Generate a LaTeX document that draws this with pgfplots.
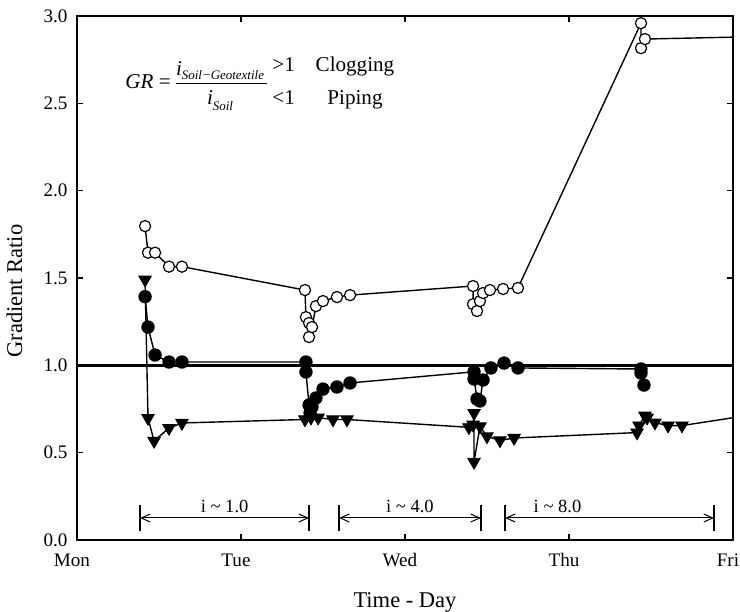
\documentclass[border=0pt]{standalone}
\usepackage{fontspec}
\setmainfont{Liberation Serif}
\usepackage{pgfplots}
\pgfplotsset{compat=1.18}
\usetikzlibrary{arrows.meta}
\newcommand{\fbig}{\fontsize{10.6}{12.5}\selectfont}
\begin{document}
\fontsize{9.3}{11.2}\selectfont
\begin{tikzpicture}
\begin{axis}[
  scale only axis, width=328bp, height=262bp,
  xmin=0, xmax=4, ymin=0, ymax=3,
  xtick={0,1,2,3,4}, xticklabels={Mon,Tue,Wed,Thu,Fri},
  ytick={0,0.5,1,1.5,2,2.5,3}, yticklabels={0.0,0.5,1.0,1.5,2.0,2.5,3.0},
  tick align=inside, major tick length=3bp,
  axis line style={line width=0.9bp},
  tick style={line width=0.7bp, black},
  tick label style={font=\fontsize{9.6}{11.5}\selectfont},
  xticklabel style={xshift=-2.5bp, yshift=-3.5bp},
  yticklabel style={xshift=-1.5bp},
  xlabel={Time - Day}, ylabel={Gradient Ratio},
  label style={font=\fontsize{11.3}{13}\selectfont},
  xlabel style={at={(axis description cs:0.5,-0.128)}, anchor=base},
  ylabel style={at={(axis description cs:-0.0838,0.475)}, anchor=base},
]
% triangles (down)
\addplot[black, line width=0.7bp, mark=triangle*, mark size=3.6bp, mark options={rotate=180, fill=black, line width=0.4bp}] coordinates {
(0.415,1.49) (0.433,0.698) (0.470,0.567) (0.561,0.641) (0.640,0.670)
(1.390,0.690) (1.427,0.700) (1.470,0.700) (1.561,0.690) (1.646,0.690)
(2.390,0.645) (2.415,0.660) (2.421,0.727) (2.421,0.447) (2.457,0.650) (2.500,0.593) (2.579,0.570) (2.665,0.584)
(3.415,0.615) (3.427,0.655) (3.463,0.712) (3.476,0.700) (3.524,0.672) (3.604,0.655) (3.689,0.655)
};
\addplot[black, line width=0.7bp, no markers] coordinates {(3.689,0.655) (4.0,0.70)};
% filled circles
\addplot[black, line width=0.7bp, mark=*, mark size=3bp, mark options={fill=black}] coordinates {
(0.415,1.393) (0.433,1.219) (0.476,1.059) (0.561,1.019) (0.640,1.019)
(1.396,1.019) (1.396,0.962) (1.415,0.773) (1.421,0.727) (1.433,0.761) (1.457,0.813) (1.500,0.864) (1.585,0.876) (1.665,0.899)
(2.421,0.963) (2.421,0.922) (2.439,0.807) (2.457,0.796) (2.476,0.916) (2.524,0.985) (2.604,1.013) (2.689,0.985)
(3.439,0.979) (3.439,0.956) (3.457,0.887)
};
% reference line GR = 1
\addplot[black, line width=1.6bp, no markers] coordinates {(0,1) (4,1)};
% open circles
\addplot[black, line width=0.7bp, mark=*, mark size=2.8bp, mark options={fill=white, line width=0.6bp}] coordinates {
(0.415,1.797) (0.433,1.645) (0.476,1.645) (0.561,1.565) (0.640,1.565)
(1.390,1.431) (1.396,1.276) (1.415,1.242) (1.415,1.162) (1.433,1.219) (1.457,1.339) (1.500,1.368) (1.585,1.391) (1.665,1.402)
(2.415,1.454) (2.415,1.350) (2.439,1.311) (2.457,1.368) (2.476,1.414) (2.518,1.431) (2.598,1.437) (2.689,1.443)
(3.439,2.959) (3.439,2.816) (3.463,2.868)
};
\addplot[black, line width=0.7bp, no markers] coordinates {(3.463,2.868) (4.0,2.879)};
% formula
\node[anchor=base west, inner sep=0pt] at (axis cs:0.293,2.587) {\fbig\textit{GR} =};
\node[anchor=base, inner sep=0pt] at (axis cs:0.872,2.662) {\fbig\textit{i}\raisebox{-2bp}{\fontsize{6.5}{7}\selectfont\textit{Soil−Geotextile}}};
\draw[line width=0.5bp] (axis cs:0.604,2.616) -- (axis cs:1.159,2.616);
\node[anchor=base, inner sep=0pt] at (axis cs:0.872,2.496) {\fbig\textit{i}\raisebox{-3bp}{\fontsize{6.5}{7}\selectfont\textit{Soil}}};
\node[anchor=base west, inner sep=0pt] at (axis cs:1.189,2.681) {\fbig >1};
\node[anchor=base, inner sep=0pt] at (axis cs:1.695,2.681) {\fbig Clogging};
\node[anchor=base west, inner sep=0pt] at (axis cs:1.189,2.496) {\fbig <1};
\node[anchor=base, inner sep=0pt] at (axis cs:1.695,2.496) {\fbig Piping};
% intervals
\draw[line width=0.7bp] (axis cs:0.384,0.052) -- (axis cs:0.384,0.200);
\draw[line width=0.7bp] (axis cs:1.415,0.052) -- (axis cs:1.415,0.200);
\draw[line width=0.5bp, {Straight Barb[length=4.5bp,width=4bp]}-{Straight Barb[length=4.5bp,width=4bp]}] (axis cs:0.384,0.126) -- (axis cs:1.415,0.126);
\draw[line width=0.7bp] (axis cs:1.598,0.052) -- (axis cs:1.598,0.200);
\draw[line width=0.7bp] (axis cs:2.463,0.052) -- (axis cs:2.463,0.200);
\draw[line width=0.5bp, {Straight Barb[length=4.5bp,width=4bp]}-{Straight Barb[length=4.5bp,width=4bp]}] (axis cs:1.598,0.126) -- (axis cs:2.463,0.126);
\draw[line width=0.7bp] (axis cs:2.610,0.052) -- (axis cs:2.610,0.200);
\draw[line width=0.7bp] (axis cs:3.884,0.052) -- (axis cs:3.884,0.200);
\draw[line width=0.5bp, {Straight Barb[length=4.5bp,width=4bp]}-{Straight Barb[length=4.5bp,width=4bp]}] (axis cs:2.610,0.126) -- (axis cs:3.884,0.126);
\node[anchor=base, inner sep=0pt] at (axis cs:0.90,0.16) {i \textasciitilde{} 1.0};
\node[anchor=base, inner sep=0pt] at (axis cs:2.03,0.16) {i \textasciitilde{} 4.0};
\node[anchor=base, inner sep=0pt] at (axis cs:2.93,0.16) {i \textasciitilde{} 8.0};
\end{axis}
\pgfresetboundingbox
\useasboundingbox (-38.5bp,-36bp) rectangle (331.5bp,270bp);
\end{tikzpicture}
\end{document}
